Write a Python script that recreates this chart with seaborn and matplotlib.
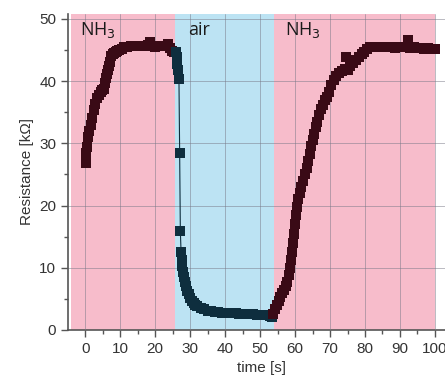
import numpy as np
import pandas as pd
import matplotlib
matplotlib.use('Agg')
import matplotlib.pyplot as plt
import seaborn as sns
from matplotlib.ticker import MultipleLocator

# first NH3 exposure (s, kOhm)
t_nh3_a = [0.3, 0.2, 0.5, 0.7, 1.2, 1.6, 2.0, 2.4, 2.9, 3.4, 3.9, 4.4, 4.9, 5.3,
           5.7, 6.0, 6.3, 6.6, 6.9, 7.2, 7.5, 7.8, 8.2, 8.7, 9.2, 9.8, 10.5, 11.2,
           12.0, 13.0, 14.0, 15.0, 16.0, 17.0, 18.0, 18.6, 19.3, 20.0, 21.0, 22.0,
           23.0, 23.8, 24.3, 24.8, 25.3]
r_nh3_a = [26.8, 28.4, 29.4, 31.0, 32.0, 33.0, 34.0, 35.3, 36.3, 37.2, 37.8, 38.2,
           38.5, 38.8, 39.7, 40.5, 41.2, 41.8, 42.5, 43.0, 44.0, 44.3, 44.5, 44.6,
           44.8, 45.0, 45.2, 45.4, 45.5, 45.6, 45.6, 45.7, 45.6, 45.7, 45.8, 46.3,
           45.6, 45.5, 45.6, 45.6, 45.7, 46.0, 45.3, 44.9, 44.6]

# air purge
t_air = [25.9, 26.1, 26.3, 26.5, 26.8, 27.0, 27.2, 27.4, 27.6, 27.8, 28.0, 28.2,
         28.5, 28.8, 29.2, 29.6, 30.0, 30.5, 31.0, 31.5, 32.0, 33.0, 34.0, 35.0,
         36.0, 37.0, 38.0, 39.0, 40.0, 41.0, 42.0, 43.0, 44.0, 45.0, 46.0, 47.0,
         48.0, 49.0, 50.0, 51.0, 52.0, 52.8, 53.3]
r_air = [44.6, 43.8, 42.8, 41.8, 40.3, 28.5, 15.9, 12.6, 11.3, 10.3, 9.3, 8.5,
         7.7, 7.0, 6.3, 5.7, 5.2, 4.7, 4.3, 4.0, 3.8, 3.5, 3.3, 3.1, 3.0, 2.9,
         2.85, 2.8, 2.75, 2.7, 2.7, 2.65, 2.6, 2.6, 2.55, 2.55, 2.5, 2.45, 2.45,
         2.4, 2.35, 2.2, 2.1]

# second NH3 exposure
t_nh3_b = [53.8, 54.3, 54.8, 55.3, 55.8, 56.3, 56.8, 57.3, 57.8, 58.2, 58.5, 58.8,
           59.0, 59.3, 59.6, 59.9, 60.2, 60.5, 60.9, 61.3, 61.8, 62.3, 62.8, 63.3,
           63.8, 64.2, 64.6, 65.0, 65.4, 65.9, 66.4, 66.9, 67.4, 67.9, 68.5, 69.2,
           69.8, 70.4, 71.0, 71.8, 72.6, 73.4, 74.2, 74.5, 75.0, 75.8, 76.6, 77.4,
           78.2, 79.0, 79.8, 80.6, 81.5, 82.5, 83.5, 84.5, 85.5, 86.5, 87.5, 88.5,
           89.5, 90.5, 91.5, 92.4, 93.0, 94.0, 95.0, 96.0, 97.0, 98.0, 99.0, 100.0]
r_nh3_b = [2.6, 3.3, 4.0, 4.7, 5.3, 5.9, 6.5, 7.0, 7.7, 8.8, 10.0, 11.2, 12.5,
           14.0, 15.5, 17.0, 18.5, 19.8, 21.0, 22.0, 23.0, 24.0, 25.0, 26.0, 27.2,
           28.3, 29.5, 30.5, 31.5, 32.6, 33.5, 34.5, 35.5, 36.2, 36.9, 37.5, 38.3,
           39.3, 40.2, 40.8, 41.3, 41.6, 42.0, 43.9, 41.8, 42.4, 42.9, 43.4, 43.9,
           44.3, 44.7, 45.1, 45.4, 45.5, 45.5, 45.5, 45.4, 45.5, 45.4, 45.3, 45.5,
           45.4, 45.5, 46.6, 45.3, 45.4, 45.3, 45.3, 45.2, 45.3, 45.2, 45.1]

# gas phases (start, end, label, label x)
phases = [(-4, 25.8, 'NH$_3$', -1.5), (25.8, 53.9, 'air', 29.5), (53.9, 100, 'NH$_3$', 57.0)]
phase_colors = ['#f7bccb', '#bce3f3', '#f7bccb']

dark_red = '#3a0a16'
dark_teal = '#0e2e3e'

sns.set_style('ticks')
plt.rcParams['font.family'] = ['Liberation Sans', 'DejaVu Sans']

fig = plt.figure(figsize=(4.45, 3.85), dpi=100)
ax = fig.add_axes([0.153, 0.143, 0.87, 0.821])

for (x0, x1, lab, lx), c in zip(phases, phase_colors):
    ax.axvspan(x0, x1, color=c, lw=0, zorder=0)
    ax.text(lx, 48.2, lab, fontsize=13, color='#1a1a1a',
            family=['Open Sans', 'DejaVu Sans'], va='center', ha='left', zorder=5)

ax.grid(True, which='major', color='#7a7a88', lw=0.6, alpha=0.6, zorder=1)
ax.set_axisbelow(False)

df_a = pd.DataFrame({'t': t_nh3_a, 'r': r_nh3_a})
df_air = pd.DataFrame({'t': t_air, 'r': r_air})
df_b = pd.DataFrame({'t': t_nh3_b, 'r': r_nh3_b})

sns.lineplot(data=df_air, x='t', y='r', color=dark_teal, lw=0.8, ax=ax, zorder=3)
for d, c in [(df_a, dark_red), (df_air, dark_teal), (df_b, dark_red)]:
    sns.scatterplot(data=d, x='t', y='r', marker='s', s=42, color=c,
                    edgecolor=c, linewidth=0, ax=ax, zorder=4)

ax.set_xlim(-4.9, 105.8)
ax.set_ylim(0, 50.8)
ax.xaxis.set_major_locator(MultipleLocator(10))
ax.xaxis.set_minor_locator(MultipleLocator(5))
ax.yaxis.set_major_locator(MultipleLocator(10))
ax.yaxis.set_minor_locator(MultipleLocator(5))
ax.set_xticks(np.arange(0, 101, 10))
ax.tick_params(which='major', direction='out', length=5, width=1, color='#555555',
               labelsize=11, labelcolor='#333333')
ax.tick_params(which='minor', direction='out', length=3, width=1, color='#555555')

for s in ['top', 'right']:
    ax.spines[s].set_visible(False)
for s in ['left', 'bottom']:
    ax.spines[s].set_color('#555555')
    ax.spines[s].set_linewidth(1.2)

ax.set_xlabel('time [s]', fontsize=11, color='#333333')
ax.set_ylabel('Resistance [kΩ]', fontsize=11, color='#333333')

fig.savefig('out.png', dpi=100)
